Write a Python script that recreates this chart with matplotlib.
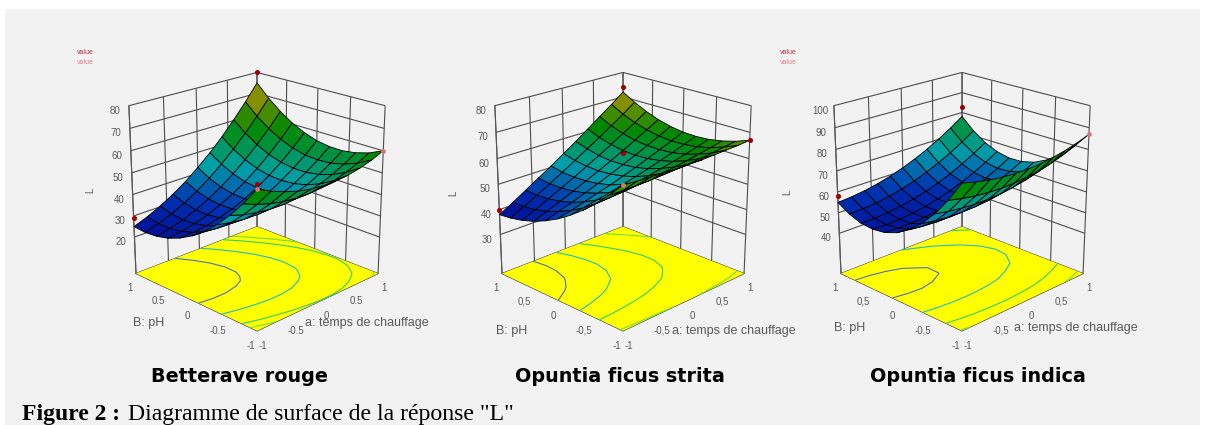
import numpy as np
import matplotlib
matplotlib.use("Agg")
import matplotlib.pyplot as plt
from matplotlib.colors import LinearSegmentedColormap
from matplotlib.patches import Rectangle

plt.rcParams['font.family'] = ['Liberation Sans', 'DejaVu Sans']

# factor levels, rows of each table run along B: pH, columns along a: temps de chauffage
levels = [-1, -0.8, -0.6, -0.4, -0.2, 0, 0.2, 0.4, 0.6, 0.8, 1]
tick_vals = [-1, -0.5, 0, 0.5, 1]

L_betterave = [
    [63.0, 60.1, 57.8, 56.0, 54.8, 54.3, 54.2, 54.8, 56.0, 57.7, 60.0],
    [54.9, 52.5, 50.7, 49.5, 48.9, 48.8, 49.3, 50.4, 52.1, 54.4, 57.2],
    [47.8, 45.9, 44.7, 44.0, 43.9, 44.3, 45.4, 47.0, 49.2, 52.0, 55.4],
    [41.6, 40.3, 39.5, 39.4, 39.8, 40.8, 42.4, 44.5, 47.3, 50.6, 54.5],
    [36.4, 35.6, 35.4, 35.8, 36.7, 38.2, 40.3, 43.0, 46.3, 50.2, 54.6],
    [32.1, 31.8, 32.2, 33.1, 34.5, 36.6, 39.2, 42.5, 46.3, 50.6, 55.6],
    [28.8, 29.1, 29.9, 31.3, 33.3, 35.9, 39.1, 42.9, 47.2, 52.1, 57.6],
    [26.4, 27.2, 28.6, 30.5, 33.1, 36.2, 39.9, 44.2, 49.0, 54.5, 60.5],
    [25.0, 26.3, 28.2, 30.7, 33.8, 37.4, 41.7, 46.5, 51.9, 57.8, 64.4],
    [24.5, 26.4, 28.8, 31.8, 35.4, 39.6, 44.4, 49.7, 55.6, 62.1, 69.2],
    [25.0, 27.4, 30.4, 33.9, 38.0, 42.8, 48.0, 53.9, 60.4, 67.4, 75.0],
]
L_strita = [
    [67.0, 66.6, 66.4, 66.2, 66.0, 66.0, 66.0, 66.2, 66.4, 66.6, 67.0],
    [61.7, 61.6, 61.7, 61.8, 62.1, 62.4, 62.7, 63.2, 63.7, 64.4, 65.1],
    [56.9, 57.2, 57.6, 58.1, 58.6, 59.3, 60.0, 60.8, 61.7, 62.6, 63.7],
    [52.6, 53.3, 54.0, 54.8, 55.7, 56.7, 57.8, 58.9, 60.1, 61.4, 62.8],
    [48.9, 49.9, 51.0, 52.1, 53.4, 54.7, 56.1, 57.6, 59.1, 60.8, 62.5],
    [45.7, 47.0, 48.5, 50.0, 51.5, 53.2, 54.9, 56.8, 58.7, 60.6, 62.7],
    [43.1, 44.8, 46.5, 48.4, 50.3, 52.3, 54.4, 56.5, 58.8, 61.1, 63.5],
    [41.0, 43.0, 45.1, 47.3, 49.6, 51.9, 54.3, 56.8, 59.4, 62.1, 64.8],
    [39.5, 41.8, 44.3, 46.8, 49.4, 52.1, 54.8, 57.7, 60.6, 63.6, 66.7],
    [38.5, 41.2, 43.9, 46.8, 49.7, 52.8, 55.9, 59.0, 62.3, 65.6, 69.1],
    [38.0, 41.0, 44.2, 47.4, 50.6, 54.0, 57.4, 61.0, 64.6, 68.2, 72.0],
]
L_indica = [
    [85.0, 83.4, 82.2, 81.4, 81.0, 81.0, 81.4, 82.2, 83.4, 85.0, 87.0],
    [75.6, 74.2, 73.2, 72.6, 72.4, 72.6, 73.2, 74.2, 75.6, 77.5, 79.7],
    [67.5, 66.4, 65.6, 65.2, 65.2, 65.6, 66.5, 67.7, 69.3, 71.3, 73.7],
    [61.0, 60.0, 59.4, 59.3, 59.5, 60.1, 61.1, 62.6, 64.4, 66.6, 69.3],
    [55.8, 55.1, 54.7, 54.7, 55.2, 56.0, 57.3, 58.9, 60.9, 63.4, 66.2],
    [52.1, 51.6, 51.4, 51.7, 52.3, 53.4, 54.8, 56.7, 58.9, 61.6, 64.6],
    [49.8, 49.5, 49.5, 50.0, 50.9, 52.1, 53.8, 55.8, 58.3, 61.2, 64.4],
    [49.0, 48.8, 49.1, 49.8, 50.8, 52.3, 54.2, 56.5, 59.1, 62.2, 65.7],
    [49.5, 49.6, 50.1, 51.0, 52.3, 53.9, 56.0, 58.5, 61.4, 64.7, 68.3],
    [51.6, 51.9, 52.5, 53.6, 55.1, 57.0, 59.3, 62.0, 65.1, 68.6, 72.5],
    [55.0, 55.5, 56.4, 57.7, 59.4, 61.5, 64.0, 66.9, 70.2, 73.9, 78.0],
]

# design points (a, B, L): above the surface in red, below it in pink
pts_betterave = [(1, 1, 80), (-1, 1, 29), (-1, -1, 65)]
low_betterave = [(1, -1, 60), (-1, -1, 63)]
pts_strita = [(1, 1, 74), (-1, 1, 40), (1, -1, 67), (-1, -1, 78)]
low_strita = [(-1, -1, 67)]
pts_indica = [(1, 1, 83), (-1, 1, 58)]
low_indica = [(1, -1, 87)]

contours_betterave = [34, 43.5, 54, 59]
contours_strita = [45.5, 51.5, 58, 66]
contours_indica = [51, 61, 74, 84]

ticks_point = ['-1', '-0.5', '0', '0.5', '1']
ticks_comma = ['-1', '-0,5', '0', '0,5', '1']
contour_cols = ['#4a70c0', '#20bcc8', '#30d070', '#70e040']

W, H = 1208, 425
fig = plt.figure(figsize=(W / 100, H / 100), dpi=100, facecolor='white')
fig.patches.append(Rectangle((5 / W, 0), 1195 / W, 416 / H, transform=fig.transFigure,
                             facecolor='#f2f2f2', edgecolor='none', zorder=-5))
cmap = LinearSegmentedColormap.from_list('de', [(0, '#00008a'), (0.22, '#0030b0'), (0.42, '#00a0a8'),
                                                (0.68, '#008800'), (0.88, '#909000'), (1, '#e07800')])

X, Y = np.meshgrid(levels, levels)
panels = [
    (253, L_betterave, pts_betterave, low_betterave, contours_betterave, (2.4, 80), [20, 30, 40, 50, 60, 70, 80], (20, 76),
     ticks_point, 'Betterave rouge', 239, (133, 323), (305, 323), (90, 190)),
    (619, L_strita, pts_strita, low_strita, contours_strita, (14, 80), [30, 40, 50, 60, 70, 80], (36, 74),
     ticks_comma, 'Opuntia ficus strita', 620, (496, 331), (672, 331), (453, 193)),
    (958, L_indica, pts_indica, low_indica, contours_indica, (20, 100), [40, 50, 60, 70, 80, 90, 100], (43, 97),
     ticks_comma, 'Opuntia ficus indica', 978, (834, 328), (1014, 328), (787, 192)),
]
for cx, vals, pts, low, cl, zlim, zt, vr, tl, title, title_x, b_pos, a_pos, l_pos in panels:
    Z = np.array(vals)
    size = 298
    ax = fig.add_axes([(cx - size / 2) / W, 1 - (196 + size / 2) / H, size / W, size / H],
                      projection='3d', computed_zorder=False)
    ax.patch.set_alpha(0)
    ax.view_init(elev=21, azim=-135)
    ax.set_proj_type('persp', focal_length=0.7)
    ax.set_box_aspect((1, 1, 1.02), zoom=1.0)
    ax.set_xlim(-1, 1); ax.set_ylim(-1, 1); ax.set_zlim(*zlim)
    ax.plot_surface(X, Y, np.full_like(Z, zlim[0]), color='#ffff00', shade=False, linewidth=0,
                    rstride=10, cstride=10, zorder=1)
    ax.contour(X, Y, Z, levels=cl, zdir='z', offset=zlim[0], colors=contour_cols, linewidths=0.8, zorder=2)
    ax.plot_surface(X, Y, Z, cmap=cmap, vmin=vr[0], vmax=vr[1], rstride=1, cstride=1, shade=False,
                    edgecolor='k', linewidth=0.6, zorder=3)
    pa, pb, pl = zip(*pts)
    ax.scatter(pa, pb, pl, s=7, color='#a00000', depthshade=False, zorder=4)
    pa, pb, pl = zip(*low)
    ax.scatter(pa, pb, pl, s=6, color='#d87878', depthshade=False, zorder=5)
    ax.set_xticks(tick_vals, tl); ax.set_yticks(tick_vals, tl); ax.set_zticks(zt)
    for a in (ax.xaxis, ax.yaxis, ax.zaxis):
        a.set_pane_color((1, 1, 1, 0)); a.pane.set_edgecolor('0.35')
        a.line.set_color('0.35'); a.line.set_linewidth(0.8)
        a._axinfo['grid'].update(color='0.3', linewidth=0.8)
        a._axinfo['tick'].update(inward_factor=0, outward_factor=0)
        a.set_tick_params(labelsize=7, labelcolor='0.35', pad=-3)
    ax.zaxis.set_tick_params(pad=-2)
    fig.text(b_pos[0] / W, 1 - b_pos[1] / H, 'B: pH', fontsize=9, color='0.35', va='center')
    fig.text(a_pos[0] / W, 1 - a_pos[1] / H, 'a: temps de chauffage', fontsize=9, color='0.35', va='center')
    fig.text(l_pos[0] / W, 1 - l_pos[1] / H, 'L', fontsize=7, color='0.35', rotation=90, ha='center', va='center')
    fig.text(title_x / W, 1 - 376 / H, title, family='DejaVu Sans', fontweight='bold', fontsize=13.8, ha='center', va='center')

for x, y, col in [(77, 53, '#c03040'), (77, 62, '#e08088'), (780, 53, '#c03040'), (780, 63, '#e08088')]:
    fig.text(x / W, 1 - y / H, 'value', fontsize=5, color=col, va='center')

fig.text(22 / W, 1 - 420 / H, 'Figure 2 :', family='Liberation Serif', fontweight='bold', fontsize=17, va='baseline')
fig.text(128 / W, 1 - 420 / H, 'Diagramme de surface de la réponse "L"', family='Liberation Serif', fontsize=17.1, va='baseline')
fig.savefig('out.png', dpi=100)
